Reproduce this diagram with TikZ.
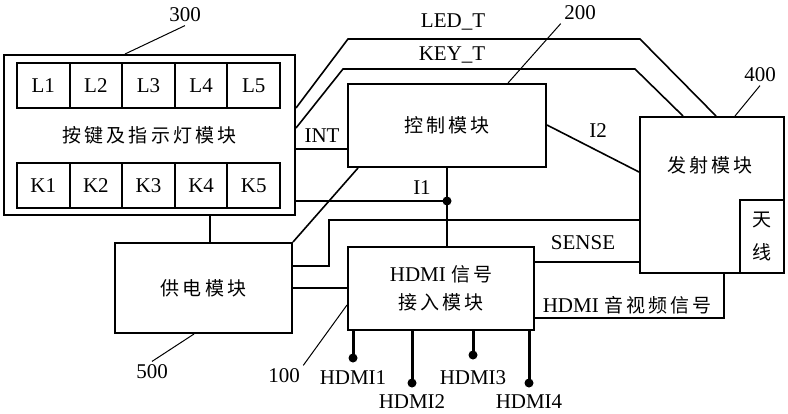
\documentclass[tikz,border=0pt]{standalone}
\usepackage{fontspec}
\setmainfont{Liberation Serif}
\newfontfamily\cjk[LetterSpace=16]{Noto Sans CJK SC}
\newcommand\zhtext[1]{{\cjk\fontsize{19}{24}\selectfont #1}}
\usetikzlibrary{calc}

\begin{document}
\begin{tikzpicture}[x=1pt,y=-1pt,font=\fontsize{21}{24}\selectfont]
	\useasboundingbox (0,0) rectangle (788,413);

	\begin{scope}[every node/.style={draw,line width=2pt,inner sep=0pt,align=center}]
	    \node (keys) [minimum width=291,minimum height=160] at (149.5,135) {\zhtext{按键及指示灯模块}};
	    \node (ctrl) [minimum width=198,minimum height=83] at (447,125.5) {\zhtext{控制模块}};
	    \node (tx) [minimum width=144,minimum height=156] at (712,195) {};
	    \node (ant) [minimum width=44,minimum height=73,font=\cjk\fontsize{19}{24}\selectfont] at (762,236.5) {天\\[9pt]线};
	    \node (power) [minimum width=177,minimum height=90] at (203.5,288) {\zhtext{供电模块}};
	    \node (hdmi) [minimum width=186,minimum height=83] at (441,288.5) {HDMI \zhtext{信号}\\[4pt]\zhtext{接入模块}};
	    \foreach \i in {1,...,5} {
	        \node (L\i) [minimum width=52.6,minimum height=45] at ({17+52.6*(\i-0.5)},85.5) {L\i};
	        \node (K\i) [minimum width=52.6,minimum height=45] at ({17+52.6*(\i-0.5)},185.5) {K\i};
	    }
	\end{scope}
	\node (txname) at (710,165) {\zhtext{发射模块}};

	\begin{scope}[line width=1.6pt]
	    \draw (keys.east |- 0,108) -- (348,39) -- (640,39) -- (tx.north -| 716,0);
	    \draw (keys.east |- 0,128) -- (343,69) -- (635,69) -- (tx.north -| 683,0);
	    \draw (keys.east |- 0,149) -- (ctrl.west |- 0,149);
	    \draw (ctrl.east |- 0,125) -- (tx.west |- 0,172);
	    \coordinate (j1) at (ctrl.south |- 0,201);
	    \draw (ctrl.south) -- (ctrl.south |- hdmi.north);
	    \draw (keys.east |- j1) -- (j1);
	    \fill (j1) circle (4.5);
	    \draw (keys.south -| 210,0) -- (power.north -| 210,0);
	    \draw (power.north east) -- (ctrl.south -| 358,0);
	    \draw (power.east |- 0,266) -| (329,220) -- (tx.west |- 0,220);
	    \draw (power.east) -- (hdmi.west |- power.east);
	    \draw (hdmi.east |- 0,262) -- (tx.west |- 0,262);
	    \draw (hdmi.east |- 0,318) -| (tx.south -| 724,0);
	\end{scope}

	\node (ledt) at (453,22) {LED\_T};
	\node (keyt) at (452,55) {KEY\_T};
	\node (int) at (322,136) {INT};
	\node (i2) at (598,131) {I2};
	\node (i1) at (422,188) {I1};
	\node (sense) at (583,243) {SENSE};
	\node (av) at (627,305) {HDMI \zhtext{音视频信号}};

	\foreach \n/\x/\y/\ly in {1/353/358/378, 2/412/383/402, 3/473/355/378, 4/529/383/402} {
	    \coordinate (p\n) at (\x,\y);
	    \node (h\n) at (\x,\ly) {HDMI\n};
	    \draw[line width=3pt] (hdmi.south -| p\n) -- (p\n);
	    \fill (p\n) circle (4.5);
	}

	\begin{scope}[line width=1pt, every node/.style={inner sep=3pt}]
	    \node (n300) at (185,15) {300};
	    \draw (n300.south) -- (keys.north -| 125,0);
	    \node (n200) at (580,13) {200};
	    \draw (n200.south west) -- (ctrl.north -| 508,0);
	    \node (n400) at (760,75) {400};
	    \draw (n400.south) -- (tx.north -| 735,0);
	    \node (n500) at (152,372) {500};
	    \draw (n500.north) -- (power.south -| 194,0);
	    \node (n100) at (284,376) {100};
	    \draw (n100.north east) -- (hdmi.west |- 0,305);
	\end{scope}
\end{tikzpicture}
\end{document}
